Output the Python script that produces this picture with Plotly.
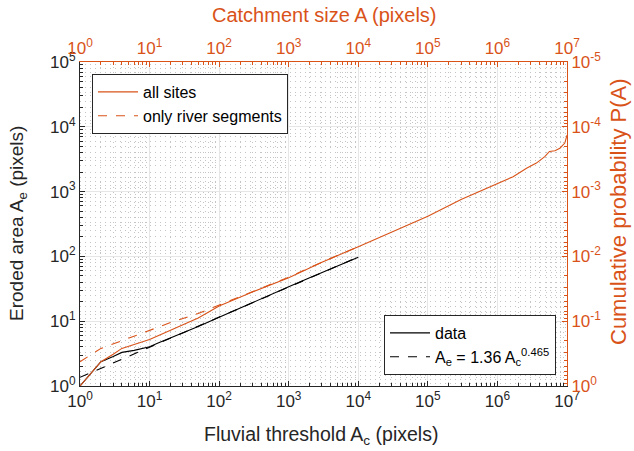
import plotly.graph_objects as go

# ---------------- data ----------------
# black: eroded area vs fluvial threshold (bottom / left axes)
ac_data = [1, 2, 3, 4, 6, 8, 10, 13, 20, 30, 50, 100, 200, 500, 1000, 2000, 5000, 10000]
ae_data = [1.0, 2.37, 2.85, 3.3, 3.55, 3.8, 4.04, 4.57, 5.5, 6.6, 8.3, 11.5, 15.8, 24.5, 33.9, 46.8, 70.8, 97.0]

# fitted power law, end points
ac_fit = [1, 10000]
ae_fit = [1.36, 98.0]

# orange: cumulative probability vs catchment size (top / right axes)
a_all = [1, 2, 3, 4, 6, 10, 20, 50, 100, 300, 1000, 3000, 1e4, 3e4, 1e5, 3e5, 1e6,
         1.68e6, 2.62e6, 3.63e6, 4.79e6, 5.6e6, 6.7e6, 7.9e6, 9.3e6, 1e7]
p_all = [1.0, 0.422, 0.324, 0.263, 0.229, 0.191, 0.138, 0.0891, 0.0582, 0.0355, 0.0214,
         0.0123, 0.00708, 0.00417, 0.0024, 0.00132, 0.000741, 0.000589, 0.000437,
         0.000363, 0.000288, 0.00024, 0.000234, 0.000214, 0.000178, 0.000135]

a_river = [1, 2, 4, 10, 20, 50, 100, 300, 1000, 3000, 10000]
p_river = [0.422, 0.263, 0.2, 0.138, 0.105, 0.0759, 0.0562, 0.0347, 0.0209, 0.0123, 0.00708]

x_exponents = [0, 1, 2, 3, 4, 5, 6, 7]
y_exponents = [0, 1, 2, 3, 4, 5]
p_exponents = [0, -1, -2, -3, -4, -5]

# ---------------- style ----------------
ORANGE = "#D95319"
DARK = "#262626"
FONT = "Liberation Sans, Arial, sans-serif"
MAJ_GRID = "#e6e6e6"
MIN_GRID = "#c4c4c4"

W, H = 634, 451
L, R, T, B = 80, 567, 62, 386


def px_x(px):
    return (px - L) / (R - L)


def px_y(py):
    return (B - py) / (B - T)


fig = go.Figure()

fig.add_trace(go.Scatter(x=a_all, y=p_all, xaxis="x2", yaxis="y2", mode="lines",
                         line=dict(color=ORANGE, width=1.1), name="all sites",
                         legend="legend"))
fig.add_trace(go.Scatter(x=a_river, y=p_river, xaxis="x2", yaxis="y2", mode="lines",
                         line=dict(color=ORANGE, width=1.1, dash="dash"),
                         name="only river segments", legend="legend"))
fig.add_trace(go.Scatter(x=ac_data, y=ae_data, mode="lines",
                         line=dict(color="black", width=1.1), name="data",
                         legend="legend2"))
fig.add_trace(go.Scatter(x=ac_fit, y=ae_fit, mode="lines",
                         line=dict(color="black", width=1.1, dash="dash"),
                         name="A<sub>e</sub> = 1.36 A<sub>c</sub><sup>0.465</sup>",
                         legend="legend2"))

TICK_SIZE = 17
tickfont_dark = dict(family=FONT, size=TICK_SIZE, color=DARK)
tickfont_or = dict(family=FONT, size=TICK_SIZE, color=ORANGE)

common = dict(type="log", showline=True, linewidth=1, ticks="inside", ticklen=5,
              tickwidth=1, showgrid=True, gridcolor=MAJ_GRID, gridwidth=1,
              zeroline=False, tickmode="array", fixedrange=True)


def minor(color, grid):
    d = dict(tickmode="linear", dtick="D1", ticks="inside", ticklen=3,
             tickcolor=color, showgrid=grid)
    if grid:
        d.update(gridcolor=MIN_GRID, griddash="1px,4px", gridwidth=1)
    return d


fig.update_layout(
    width=W, height=H, autosize=False,
    margin=dict(l=L, r=W - R, t=T, b=H - B, pad=0),
    paper_bgcolor="white", plot_bgcolor="white",
    font=dict(family=FONT, color=DARK),
    xaxis=dict(**common, range=[0, 7], linecolor=DARK, tickcolor=DARK,
               tickvals=[10 ** e for e in x_exponents],
               ticktext=[f"10<sup>{e}</sup>" for e in x_exponents],
               tickfont=tickfont_dark, minor=minor(DARK, True)),
    yaxis=dict(**common, range=[0, 5], linecolor=DARK, tickcolor=DARK,
               tickvals=[10 ** e for e in y_exponents],
               ticktext=[f"10<sup>{e}</sup>" for e in y_exponents],
               tickfont=tickfont_dark, minor=minor(DARK, True)),
    xaxis2=dict(**common, range=[0, 7], overlaying="x", side="top", anchor="y",
                linecolor=ORANGE, tickcolor=ORANGE,
                tickvals=[10 ** e for e in x_exponents],
                ticktext=[f"10<sup>{e}</sup>" for e in x_exponents],
                tickfont=tickfont_or, minor=minor(ORANGE, False)),
    yaxis2=dict(**common, range=[0, -5], overlaying="y", side="right", anchor="x",
                linecolor=ORANGE, tickcolor=ORANGE,
                tickvals=[10 ** e for e in p_exponents],
                ticktext=[f"10<sup>{e}</sup>" for e in p_exponents],
                tickfont=tickfont_or, minor=minor(ORANGE, True)),
    legend=dict(x=px_x(92), y=px_y(74), xanchor="left", yanchor="top",
                bgcolor="white", bordercolor=DARK, borderwidth=1,
                font=dict(family=FONT, size=16, color="black"),
                tracegroupgap=0, itemwidth=40),
    legend2=dict(x=px_x(556), y=px_y(375), xanchor="right", yanchor="bottom",
                 bgcolor="white", bordercolor=DARK, borderwidth=1,
                 font=dict(family=FONT, size=16, color="black"),
                 tracegroupgap=0, itemwidth=40),
    showlegend=True,
)

# axis titles
fig.add_annotation(text="Fluvial threshold A<sub>c</sub> (pixels)", xref="paper", yref="paper",
                   x=px_x(321), y=px_y(421), xanchor="center", yanchor="top", showarrow=False,
                   font=dict(family=FONT, size=19.5, color=DARK))
fig.add_annotation(text="Catchment size A (pixels)", xref="paper", yref="paper",
                   x=px_x(324), y=px_y(2), xanchor="center", yanchor="top", showarrow=False,
                   font=dict(family=FONT, size=20, color=ORANGE))
fig.add_annotation(text="Eroded area A<sub>e</sub> (pixels)", xref="paper", yref="paper",
                   x=px_x(4), y=0.5, xanchor="left", yanchor="middle", textangle=-90,
                   showarrow=False, font=dict(family=FONT, size=19, color=DARK))
fig.add_annotation(text="Cumulative probability P(A)", xref="paper", yref="paper",
                   x=px_x(619), y=px_y(212), xanchor="center", yanchor="middle", textangle=-90,
                   showarrow=False, font=dict(family=FONT, size=22, color=ORANGE))

fig.write_html("out.html")
